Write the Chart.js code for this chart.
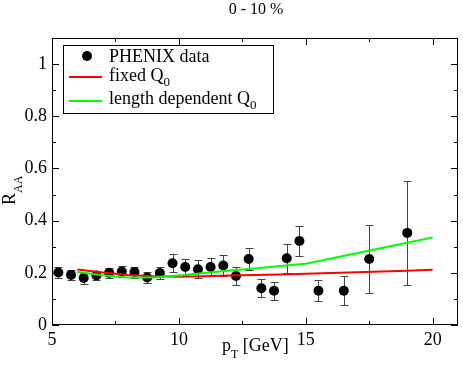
<!DOCTYPE html>
<html>
<head>
<meta charset="utf-8">
<script src="https://cdn.jsdelivr.net/npm/chart.js@4/dist/chart.umd.min.js"></script>
<style>
html,body{margin:0;padding:0;background:#fff;}
#wrap{width:463px;height:367px;}
</style>
</head>
<body>
<div id="wrap"><canvas id="c" width="463" height="367"></canvas></div>
<script>
// ---- data ----
const ptData = [5.25,5.75,6.25,6.75,7.25,7.75,8.25,8.75,9.25,9.75,10.25,10.75,11.25,11.75,12.25,12.75,13.25,13.75,14.25,14.75,15.5,16.5,17.5,19.0];
const raaData = [0.201,0.192,0.180,0.190,0.200,0.205,0.203,0.182,0.199,0.237,0.222,0.214,0.222,0.228,0.188,0.253,0.141,0.131,0.256,0.322,0.131,0.131,0.253,0.353];
const raaErr = [0.020,0.019,0.021,0.018,0.020,0.022,0.021,0.020,0.024,0.035,0.031,0.035,0.034,0.039,0.035,0.042,0.035,0.035,0.055,0.056,0.040,0.055,0.130,0.200];
const ptCurve = [6,7,8,9,10,11,12,13,14,15,16,17,18,19,20];
const fixedQ0 = [0.213,0.201,0.192,0.187,0.185,0.187,0.190,0.192,0.194,0.196,0.199,0.202,0.205,0.208,0.212];
const lengthQ0 = [0.203,0.191,0.182,0.182,0.190,0.199,0.209,0.217,0.226,0.235,0.255,0.275,0.295,0.315,0.335];
const xTicks = [5,10,15,20];
const yTicks = [0,0.2,0.4,0.6,0.8,1];
const xMinor = [7.5,12.5,17.5];
const yMinor = [0.1,0.3,0.5,0.7,0.9,1.1];
const seriesLabels = ['PHENIX data','fixed Q','length dependent Q'];
const titleText = '0 - 10 %';

const SERIF = '"Liberation Serif", "DejaVu Serif", serif';

const frameTicks = {
  id:'frameTicks',
  afterDatasetsDraw(chart){
    const {ctx, chartArea:a, scales:{x,y}} = chart;
    ctx.save();
    ctx.strokeStyle='#000'; ctx.lineWidth=1;
    ctx.strokeRect(a.left+0.5,a.top+0.5,a.right-a.left-1,a.bottom-a.top-1);
    ctx.beginPath();
    const tk=(xs,len)=>xs.forEach(v=>{const p=Math.round(x.getPixelForValue(v))+0.5;
      ctx.moveTo(p,a.bottom);ctx.lineTo(p,a.bottom-len);ctx.moveTo(p,a.top);ctx.lineTo(p,a.top+len);});
    const tky=(ys,len)=>ys.forEach(v=>{const p=Math.round(y.getPixelForValue(v))+0.5;
      ctx.moveTo(a.left,p);ctx.lineTo(a.left+len,p);ctx.moveTo(a.right,p);ctx.lineTo(a.right-len,p);});
    tk(xTicks,7);tk(xMinor,4);tky(yTicks,7);tky(yMinor,4);
    ctx.stroke();
    ctx.restore();
  }
};

const errorBars = {
  id:'errorBars',
  beforeDatasetsDraw(chart){
    const {ctx, scales:{x,y}} = chart;
    ctx.save();
    ctx.strokeStyle='#444'; ctx.lineWidth=1;
    ctx.beginPath();
    ptData.forEach((v,i)=>{
      const px=Math.round(x.getPixelForValue(v))+0.5;
      const t=Math.round(y.getPixelForValue(raaData[i]+raaErr[i]))+0.5;
      const b=Math.round(y.getPixelForValue(raaData[i]-raaErr[i]))+0.5;
      ctx.moveTo(px,t);ctx.lineTo(px,b);
      ctx.moveTo(px-4,t);ctx.lineTo(px+4,t);
      ctx.moveTo(px-4,b);ctx.lineTo(px+4,b);
    });
    ctx.stroke();
    ctx.restore();
  }
};

function drawSub(ctx, main, sub, x, yb, size, subSize, drop){
  ctx.font = size+'px '+SERIF;
  ctx.fillText(main,x,yb);
  const w=ctx.measureText(main).width;
  ctx.font = subSize+'px '+SERIF;
  ctx.fillText(sub,x+w,yb+drop);
  return w+ctx.measureText(sub).width;
}

const annotations = {
  id:'annotations',
  afterDraw(chart){
    const {ctx, chartArea:a} = chart;
    ctx.save();
    ctx.fillStyle='#000';
    ctx.textAlign='center'; ctx.textBaseline='alphabetic';
    ctx.font='16px '+SERIF;
    ctx.fillText(titleText, 256, 14);
    // x label
    ctx.textAlign='left';
    ctx.font='18px '+SERIF;
    ctx.fillText('p',222,351);
    const wP=ctx.measureText('p').width;
    ctx.font='12px '+SERIF; ctx.fillText('T',222+wP,358);
    const wT=ctx.measureText('T').width;
    ctx.font='18px '+SERIF; ctx.fillText(' [GeV]',222+wP+wT,351);
    // y label
    ctx.save();
    ctx.translate(15,205);
    ctx.rotate(-Math.PI/2);
    drawSub(ctx,'R','AA',0,0,18,12,7);
    ctx.restore();
    // legend
    const lx=63, ly=45, lw=210, lh=68;
    ctx.fillStyle='#fff';
    ctx.fillRect(lx,ly,lw,lh);
    ctx.strokeStyle='#000'; ctx.lineWidth=1;
    ctx.strokeRect(lx+0.5,ly+0.5,lw,lh);
    ctx.fillStyle='#000';
    ctx.beginPath(); ctx.arc(87,56,5,0,Math.PI*2); ctx.fill();
    ctx.lineWidth=2;
    ctx.strokeStyle='#ff0000'; ctx.beginPath(); ctx.moveTo(69,77); ctx.lineTo(102,77); ctx.stroke();
    ctx.strokeStyle='#00ff00'; ctx.beginPath(); ctx.moveTo(69,101); ctx.lineTo(102,101); ctx.stroke();
    ctx.font='18px '+SERIF;
    ctx.fillText(seriesLabels[0],109,62);
    drawSub(ctx,seriesLabels[1],'0',109,81,18,13,5);
    drawSub(ctx,seriesLabels[2],'0',109,104,18,13,5);
    ctx.restore();
  }
};

const pts = ptData.map((v,i)=>({x:v,y:raaData[i]}));
const red = ptCurve.map((v,i)=>({x:v,y:fixedQ0[i]}));
const green = ptCurve.map((v,i)=>({x:v,y:lengthQ0[i]}));

new Chart(document.getElementById('c'),{
  type:'scatter',
  data:{datasets:[
    {label:seriesLabels[0],data:pts,showLine:false,pointRadius:5,pointHoverRadius:5,backgroundColor:'#000',borderColor:'#000',borderWidth:0,order:3},
    {label:seriesLabels[1],data:red,showLine:true,pointRadius:0,borderColor:'#ff0000',borderWidth:2,tension:0,order:2},
    {label:seriesLabels[2],data:green,showLine:true,pointRadius:0,borderColor:'#00ff00',borderWidth:2,tension:0,order:1}
  ]},
  options:{
    responsive:false,animation:false,
    layout:{padding:{top:38,right:3,left:0,bottom:0}},
    plugins:{legend:{display:false},tooltip:{enabled:false},title:{display:false}},
    scales:{
      x:{type:'linear',min:5,max:21,
        grid:{display:false,drawTicks:false},border:{display:false},
        afterBuildTicks(s){s.ticks=xTicks.map(v=>({value:v}));},
        afterFit(s){s.height=42;},
        ticks:{color:'#000',font:{family:SERIF,size:18},padding:4,maxRotation:0,autoSkip:false,callback:v=>String(v)}},
      y:{type:'linear',min:0,max:1.1,
        grid:{display:false,drawTicks:false},border:{display:false},
        afterBuildTicks(s){s.ticks=yTicks.map(v=>({value:v}));},
        afterFit(s){s.width=52;},
        ticks:{color:'#000',font:{family:SERIF,size:18},padding:5,autoSkip:false,callback:v=>String(Math.round(v*10)/10)}}
    }
  },
  plugins:[errorBars,frameTicks,annotations]
});
</script>
</body>
</html>
